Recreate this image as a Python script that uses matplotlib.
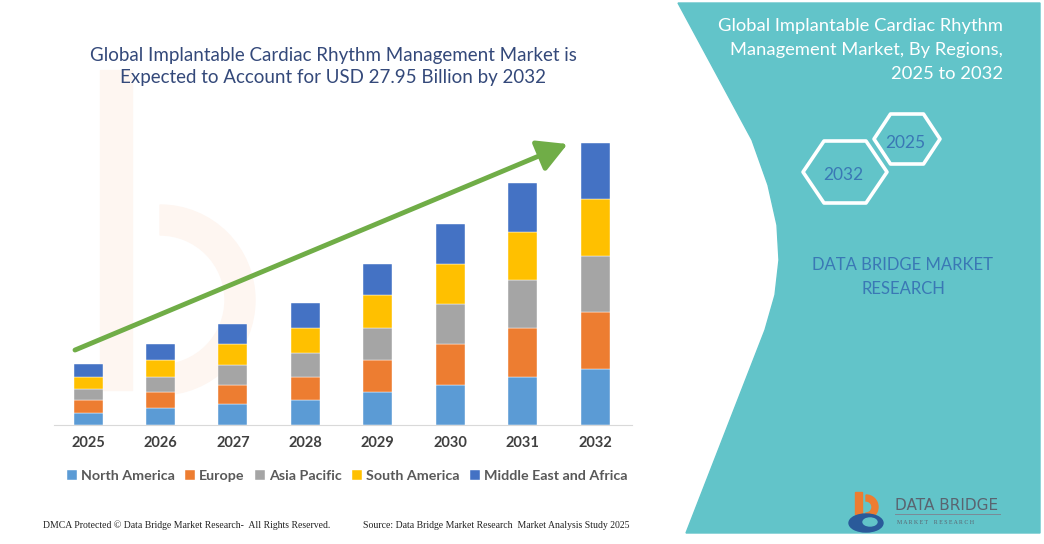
import numpy as np
import matplotlib.pyplot as plt
from matplotlib.patches import Polygon, Rectangle, Wedge, Ellipse

plt.rcParams['font.family'] = ['Lato', 'DejaVu Sans']

years = ['2025', '2026', '2027', '2028', '2029', '2030', '2031', '2032']
regions = ['North America', 'Europe', 'Asia Pacific', 'South America', 'Middle East and Africa']
colors = ['#5b9bd5', '#ed7d31', '#a5a5a5', '#ffc000', '#4472c4']

# USD billion (2032 total = 27.95)
north_america = [1.22, 1.65, 2.05, 2.48, 3.27, 3.96, 4.79, 5.58]
europe        = [1.25, 1.62, 1.95, 2.31, 3.13, 4.03, 4.82, 5.64]
asia_pacific  = [1.12, 1.52, 1.98, 2.38, 3.17, 4.03, 4.79, 5.51]
south_america = [1.19, 1.65, 2.01, 2.48, 3.27, 3.89, 4.75, 5.64]
mea           = [1.22, 1.58, 2.05, 2.41, 3.10, 4.03, 4.85, 5.58]
series = [north_america, europe, asia_pacific, south_america, mea]

fig = plt.figure(figsize=(10.44, 5.44), dpi=100)

# background layer in pixel coordinates
bg = fig.add_axes([0, 0, 1, 1])
bg.set_xlim(0, 1044)
bg.set_ylim(544, 0)
bg.axis('off')

# faint watermark logo
bg.add_patch(Rectangle((100, 70), 32, 320, color='#fef6f1', zorder=0))
bg.add_patch(Wedge((160, 300), 95, -90, 90, width=30, color='#fef6f1', zorder=0))

# teal side panel
panel = [(678, 3), (752, 140), (768, 185), (777, 225), (779, 260), (775, 295),
         (765, 330), (686, 533), (1040, 533), (1040, 3)]
bg.add_patch(Polygon(panel, closed=True, color='#62c4c9', zorder=1))

for txt, yy in [('Global Implantable Cardiac Rhythm', 26),
                ('Management Market, By Regions,', 50),
                ('2025 to 2032', 74)]:
    bg.text(1003, yy, txt, ha='right', va='center', fontsize=13.2,
            color='white', zorder=3)


def hexagon(cx, cy, w, h):
    return [(cx - w, cy), (cx - w / 2, cy - h), (cx + w / 2, cy - h),
            (cx + w, cy), (cx + w / 2, cy + h), (cx - w / 2, cy + h)]


bg.add_patch(Polygon(hexagon(845, 172, 42, 31), closed=True, fill=False,
                     ec='white', lw=2.6, joinstyle='round', zorder=3))
bg.add_patch(Polygon(hexagon(907, 139, 33, 25), closed=True, fill=False,
                     ec='white', lw=2.6, joinstyle='round', zorder=3))
bg.text(843, 175, '2032', ha='center', va='center', fontsize=12.5, color='#3a78b5', zorder=4)
bg.text(905, 143, '2025', ha='center', va='center', fontsize=12.5, color='#3a78b5', zorder=4)

bg.text(903, 265, 'DATA BRIDGE MARKET', ha='center', va='center', fontsize=12,
        color='#3a78b5', zorder=4)
bg.text(903, 289, 'RESEARCH', ha='center', va='center', fontsize=12,
        color='#3a78b5', zorder=4)

# logo
bg.add_patch(Rectangle((855, 492), 7, 22, color='#ed7d31', zorder=4))
bg.add_patch(Wedge((866, 507), 12, -90, 90, width=6, color='#ed7d31', zorder=4))
bg.add_patch(Ellipse((866, 523), 34, 18, color='#2a5a9a', zorder=4))
bg.add_patch(Ellipse((870, 522), 14, 8, color='#62c4c9', zorder=5))
bg.text(895, 506, 'DATA BRIDGE', ha='left', va='center', fontsize=11,
        color='#5a6470', family='Liberation Sans Narrow', zorder=4)
bg.plot([895, 1000], [514, 514], color='#7a8a96', lw=0.7, zorder=4)
bg.text(897, 522, 'M A R K E T    R E S E A R C H', ha='left', va='center',
        fontsize=4.2, color='#5a6470', family='Liberation Serif', zorder=4)

# left title
bg.text(333, 55, 'Global Implantable Cardiac Rhythm Management Market is',
        ha='center', va='center', fontsize=13.5, color='#34497a', zorder=3)
bg.text(333, 78, 'Expected to Account for USD 27.95 Billion by 2032',
        ha='center', va='center', fontsize=13.5, color='#34497a', zorder=3)

# footer
bg.text(43, 525, 'DMCA Protected \u00a9 Data Bridge Market Research-  All Rights Reserved.',
        ha='left', va='center', fontsize=7, color='#222222', family='Liberation Serif')
bg.text(363, 525, 'Source: Data Bridge Market Research  Market Analysis Study 2025',
        ha='left', va='center', fontsize=7, color='#222222', family='Liberation Serif')

# chart
ax = fig.add_axes([54 / 1044, 119 / 544, 578 / 1044, 295 / 544])
ax.patch.set_alpha(0)
x = np.arange(len(years))
bottom = np.zeros(len(years))
handles = []
for vals, name, c in zip(series, regions, colors):
    b = ax.bar(x, vals, 0.4, bottom=bottom, color=c, label=name,
               edgecolor='white', linewidth=0.3)
    handles.append(b)
    bottom += np.array(vals)

ax.set_xlim(-0.47, 7.51)
ax.set_ylim(0, 29.24)
ax.set_yticks([])
ax.set_xticks(x, years)
ax.tick_params(axis='x', length=0, pad=8, labelsize=10.5, labelcolor='#404040')
for t in ax.get_xticklabels():
    t.set_fontweight('bold')
for s in ['top', 'right', 'left']:
    ax.spines[s].set_visible(False)
ax.spines['bottom'].set_color('#d9d9d9')

ax.annotate('', xy=(6.62, 27.85), xytext=(-0.18, 7.43),
            arrowprops=dict(arrowstyle='-|>,head_length=0.4,head_width=0.22',
                            mutation_scale=45, lw=3.5, color='#70ad47',
                            shrinkA=0, shrinkB=0),
            annotation_clip=False)

fig.legend(handles=handles, loc='center', bbox_to_anchor=(347 / 1044, 1 - 476 / 544),
           ncol=5, frameon=False, handlelength=0.7, handleheight=0.7,
           handletextpad=0.3, columnspacing=0.7, labelcolor='#595959',
           prop={'weight': 'bold', 'size': 10.3})

fig.savefig('out.png', dpi=100)
